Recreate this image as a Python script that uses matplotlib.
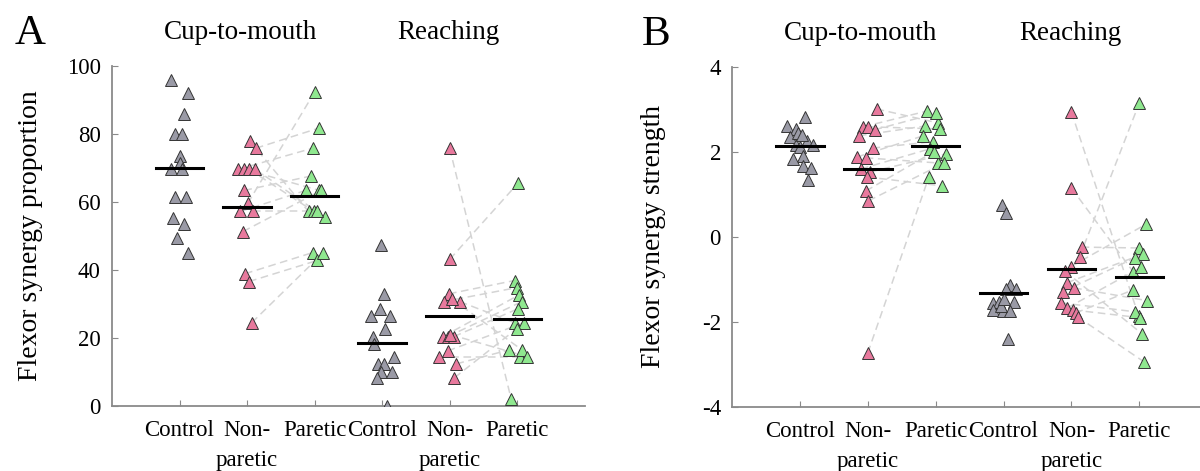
import numpy as np
import matplotlib
matplotlib.use("Agg")
import matplotlib.pyplot as plt
import matplotlib.transforms as mtrans

plt.rcParams['font.family'] = ['Liberation Serif', 'DejaVu Serif']
plt.rcParams['axes.unicode_minus'] = False

groups = ["Control", "Non-\nparetic", "Paretic", "Control", "Non-\nparetic", "Paretic"]
tasks = ["Cup-to-mouth", "Reaching"]

# ---- panel A: flexor synergy proportion ----
a_cup_ctrl = [96, 92, 86, 80, 80, 73.5, 71.5, 69.6, 69.6, 61.4, 61.4, 55.2, 53.4, 49.3, 45.1]
a_cup_ctrl_j = [-0.12, 0.12, 0.07, -0.07, 0.04, 0.0, 0.01, -0.12, 0.04, -0.06, 0.10, -0.09, 0.07, -0.03, 0.13]
a_cup_np = [77.9, 75.8, 69.6, 69.6, 69.6, 69.6, 63.4, 59.6, 57.2, 57.2, 51.3, 38.9, 36.6, 24.5]
a_cup_np_j = [0.04, 0.13, -0.13, -0.04, 0.03, 0.12, -0.04, 0.01, -0.10, 0.09, -0.06, -0.03, 0.03, 0.07]
a_cup_p = [57.2, 81.7, 75.8, 63.4, 57.2, 55.5, 67.6, 92.3, 63.4, 57.2, 63.4, 45.1, 42.8, 45.1]
a_cup_p_j = [-0.09, 0.06, -0.03, 0.07, -0.01, 0.16, -0.06, 0.0, -0.13, 0.04, 0.10, -0.03, 0.04, 0.13]

a_rch_ctrl = [47.2, 33.0, 28.6, 26.5, 26.5, 22.7, 20.4, 18.3, 14.5, 12.4, 12.4, 10.0, 10.0, 8.3, 0.0]
a_rch_ctrl_j = [-0.01, 0.03, -0.03, -0.16, 0.12, 0.04, -0.13, -0.12, 0.18, -0.06, 0.03, -0.01, 0.15, -0.07, 0.07]
a_rch_np = [75.8, 43.1, 33.0, 30.7, 30.7, 20.4, 20.4, 20.4, 16.2, 14.5, 12.4, 8.3, 31.5, 21.0]
a_rch_np_j = [0.0, 0.0, -0.01, -0.09, 0.15, -0.10, -0.03, 0.06, -0.03, -0.16, 0.10, 0.07, 0.03, 0.01]
a_rch_p = [2.1, 65.5, 36.9, 34.8, 24.5, 32.7, 30.7, 28.6, 24.5, 14.5, 16.5, 22.7, 16.5, 14.5]
a_rch_p_j = [-0.09, 0.01, -0.04, -0.01, -0.04, 0.03, 0.07, 0.01, 0.10, 0.04, -0.12, -0.01, 0.07, 0.15]

a_means = [70.0, 58.5, 61.7, 18.6, 26.5, 25.7]

# ---- panel B: flexor synergy strength ----
b_cup_ctrl = [2.82, 2.61, 2.55, 2.35, 2.45, 2.26, 2.16, 2.16, 2.12, 1.90, 1.83, 1.67, 1.62, 1.34, 2.40]
b_cup_ctrl_j = [0.07, -0.19, -0.06, -0.15, -0.03, 0.10, 0.19, -0.06, 0.0, 0.04, -0.10, 0.04, 0.16, 0.12, 0.03]
b_cup_np = [3.01, 2.59, 2.59, 2.52, 2.38, 2.09, 1.88, 1.86, 1.60, 1.53, 1.41, 1.08, 0.85, -2.73]
b_cup_np_j = [0.13, -0.07, 0.01, 0.10, -0.13, 0.07, -0.16, -0.03, -0.10, 0.04, -0.01, -0.03, 0.01, 0.0]
b_cup_p = [2.68, 2.96, 2.54, 2.91, 2.61, 2.24, 2.38, 1.74, 2.07, 1.95, 1.20, 2.00, 1.74, 1.41]
b_cup_p_j = [0.04, -0.13, 0.07, 0.01, -0.15, -0.04, -0.18, 0.03, -0.09, 0.15, 0.10, -0.03, 0.13, -0.10]

b_rch_ctrl = [0.75, 0.56, -1.13, -1.22, -1.22, -1.55, -1.53, -1.53, -1.72, -1.74, -1.74, -2.40, -1.62, -1.45]
b_rch_ctrl_j = [-0.03, 0.03, 0.10, 0.04, 0.18, -0.16, -0.07, 0.15, -0.15, -0.01, 0.09, 0.06, -0.04, 0.01]
b_rch_np = [2.94, 1.15, -0.24, -0.47, -0.70, -0.80, -1.08, -1.20, -1.29, -1.55, -1.67, -1.72, -1.79, -1.88]
b_rch_np_j = [0.0, 0.0, 0.15, 0.12, -0.01, -0.10, -0.07, 0.04, -0.13, -0.16, -0.06, 0.03, 0.06, 0.09]
b_rch_p = [-1.86, -0.82, -0.26, 3.15, 0.30, -2.28, -0.40, -1.50, -0.49, -1.76, -0.71, -1.90, -1.25, -2.94]
b_rch_p_j = [-0.01, -0.09, -0.01, 0.0, 0.10, 0.04, 0.06, 0.12, -0.06, -0.07, 0.03, 0.01, -0.10, 0.07]

b_means = [2.14, 1.60, 2.14, -1.32, -0.76, -0.94]

col_ctrl = "#9a9aa6"
col_np = "#e8799d"
col_p = "#8fe88f"
edge = "#353535"


def draw_panel(ax, cup, rch, means, ylim, yticks, ylabel, letter, lx, letx):
    for (ctrl, cj, npv, nj, pv, pj), base in zip([cup, rch], [1, 4]):
        xn = base + 1 + np.array(nj)
        xp = base + 2 + np.array(pj)
        for i in range(len(npv)):
            ax.plot([xn[i], xp[i]], [npv[i], pv[i]], color="#d4d4d4", lw=1.1,
                    dashes=(5, 3), zorder=1)
        ax.plot(base + np.array(cj), ctrl, '^', ms=8, mfc=col_ctrl, mec=edge, mew=0.7, zorder=3)
        ax.plot(xn, npv, '^', ms=8, mfc=col_np, mec=edge, mew=0.7, zorder=3)
        ax.plot(xp, pv, '^', ms=8, mfc=col_p, mec=edge, mew=0.7, zorder=3)
    for k, m in enumerate(means):
        ax.plot([k + 1 - 0.35, k + 1 + 0.35], [m, m], color="black", lw=2.2, zorder=4)

    ax.set_xlim(0, 7)
    ax.set_ylim(*ylim)
    ax.set_yticks(yticks)
    ax.set_xticks(range(1, 7))
    ax.set_xticklabels(groups, linespacing=1.55, va="top")
    for s in ["top", "right"]:
        ax.spines[s].set_visible(False)
    for s in ["left", "bottom"]:
        ax.spines[s].set_color("#8a8a8a")
        ax.spines[s].set_linewidth(1.3)
    ax.tick_params(direction="in", length=4, color="#8a8a8a", labelsize=16.5, pad=8)
    ax.tick_params(axis="x", pad=10)
    ax.set_ylabel(ylabel, fontsize=20)
    ax.yaxis.set_label_coords(lx, 0.5)

    tr = mtrans.blended_transform_factory(ax.transData, ax.transAxes)
    ax.text(1.9, 1.097, tasks[0], transform=tr, ha="center", va="center", fontsize=19.5)
    ax.text(4.98, 1.097, tasks[1], transform=tr, ha="center", va="center", fontsize=19.5)
    ax.text(letx, 1.095, letter, transform=ax.transAxes, ha="center", va="center", fontsize=31)


fig = plt.figure(figsize=(12, 4.71), dpi=100)
axA = fig.add_axes([0.0933, 0.138, 0.394, 0.722])
axB = fig.add_axes([0.61, 0.136, 0.396, 0.722])

draw_panel(axA,
           (a_cup_ctrl, a_cup_ctrl_j, a_cup_np, a_cup_np_j, a_cup_p, a_cup_p_j),
           (a_rch_ctrl, a_rch_ctrl_j, a_rch_np, a_rch_np_j, a_rch_p, a_rch_p_j),
           a_means, (0, 100), [0, 20, 40, 60, 80, 100], "Flexor synergy proportion", "A",
           -0.146, -0.173)
draw_panel(axB,
           (b_cup_ctrl, b_cup_ctrl_j, b_cup_np, b_cup_np_j, b_cup_p, b_cup_p_j),
           (b_rch_ctrl, b_rch_ctrl_j, b_rch_np, b_rch_np_j, b_rch_p, b_rch_p_j),
           b_means, (-4, 4), [-4, -2, 0, 2, 4], "Flexor synergy strength", "B",
           -0.138, -0.16)

fig.savefig("out.png", dpi=100)
